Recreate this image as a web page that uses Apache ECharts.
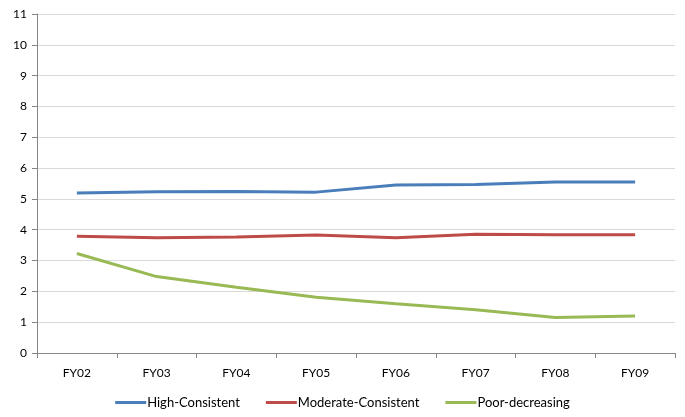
<!DOCTYPE html>
<html><head><meta charset="utf-8">
<script src="https://cdn.jsdelivr.net/npm/echarts@6/dist/echarts.min.js"></script>
<style>html,body{margin:0;padding:0;background:#fff}#c{width:685px;height:417px}</style>
</head><body><div id="c"></div>
<script>
const categories = ['FY02','FY03','FY04','FY05','FY06','FY07','FY08','FY09'];
const highConsistent = [5.19, 5.23, 5.24, 5.22, 5.45, 5.47, 5.55, 5.55];
const moderateConsistent = [3.79, 3.74, 3.76, 3.83, 3.74, 3.85, 3.84, 3.84];
const poorDecreasing = [3.23, 2.48, 2.13, 1.81, 1.60, 1.40, 1.15, 1.20];
const yTicks = [0,1,2,3,4,5,6,7,8,9,10,11];

const chart = echarts.init(document.getElementById('c'), null, {renderer:'canvas'});
const font = 'Lato, "Open Sans", sans-serif';
function line(name, data, color){
  return {name, type:'line', data, symbol:'none', smooth:false,
    lineStyle:{color, width:3}, itemStyle:{color}};
}
chart.setOption({
  animation:false,
  textStyle:{fontFamily:font},
  grid:{left:37, right:10, top:14, bottom:64},
  legend:{bottom:3, left:'center', icon:'rect', itemWidth:31, itemHeight:3, itemGap:26,
    textStyle:{fontFamily:font, fontSize:13, color:'#000', padding:[0,0,0,-4]}},
  xAxis:{type:'category', data:categories, boundaryGap:true,
    axisLine:{lineStyle:{color:'#868686'}},
    axisTick:{show:true, inside:false, length:5, lineStyle:{color:'#868686'}},
    axisLabel:{color:'#000', fontSize:12, fontFamily:font, margin:14}},
  yAxis:{type:'value', min:0, max:11, interval:1,
    axisLine:{show:true, lineStyle:{color:'#868686'}},
    axisTick:{show:true, length:5, lineStyle:{color:'#868686'}},
    axisLabel:{color:'#000', fontSize:12, fontFamily:font, margin:10,
      formatter:v=>yTicks.includes(v)?String(v):''},
    splitLine:{lineStyle:{color:'#d9d9d9'}}},
  series:[
    line('High-Consistent', highConsistent, '#4a7ebb'),
    line('Moderate-Consistent', moderateConsistent, '#be4b48'),
    line('Poor-decreasing', poorDecreasing, '#98b954')
  ]
});
</script></body></html>
